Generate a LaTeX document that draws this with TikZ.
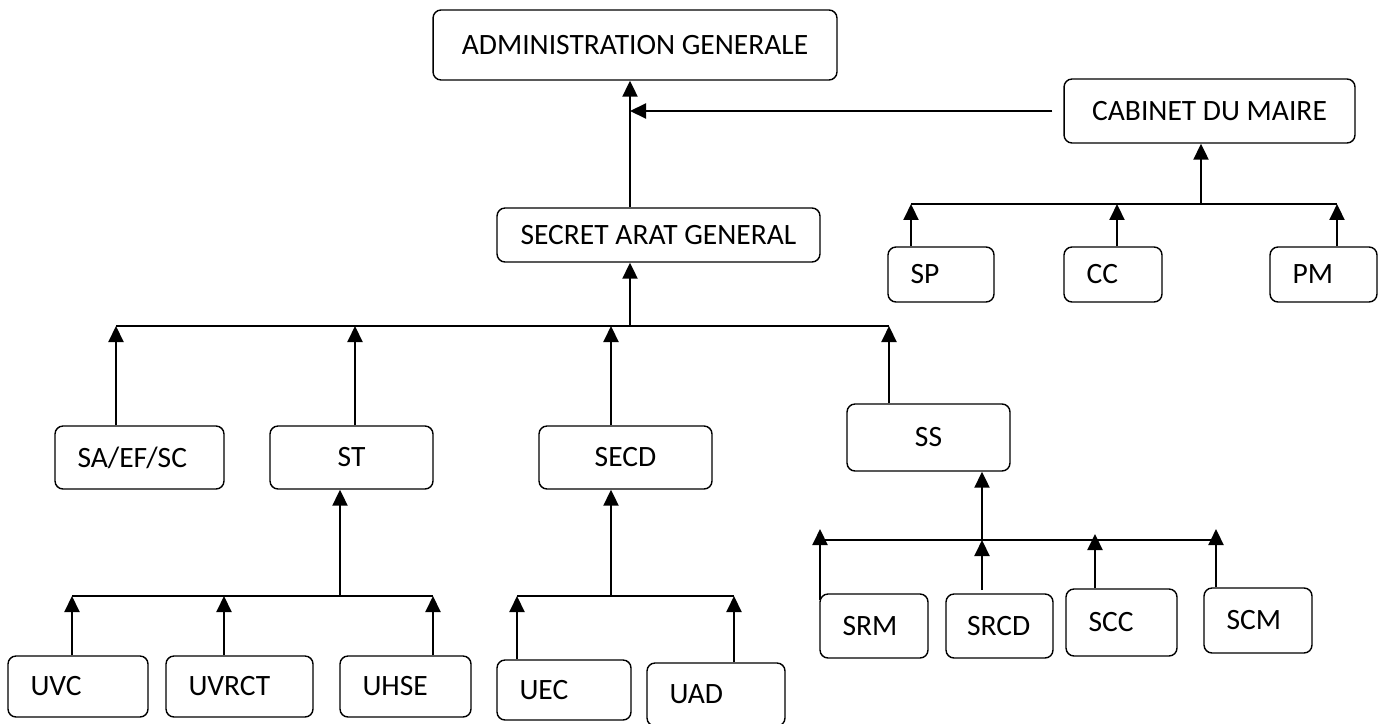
\documentclass[tikz,border=0pt]{standalone}
\usepackage{fontspec}
\setmainfont{Carlito}
\usetikzlibrary{arrows.meta,positioning,calc}

\begin{document}
\begin{tikzpicture}[
    x=0.02cm, y=-0.02cm,
    font=\fontsize{16.8}{20}\selectfont,
    dept/.style={rectangle, draw, rounded corners=0.16cm, line width=0.8pt, inner xsep=0.45cm, inner ysep=0pt, align=left},
    deptc/.style={dept, align=center},
    bus/.style={line width=0.8pt},
    link/.style={line width=1.2pt, -{Triangle[length=0.32cm, width=0.3cm]}}
]
\useasboundingbox (0,0) rectangle (1388,723);

% Direction (top)
\node[deptc, minimum width=8.08cm, minimum height=1.4cm] (admin) at (635,45) {ADMINISTRATION GENERALE};
\node[deptc, minimum width=5.82cm, minimum height=1.28cm] (cabinet) at (1209.5,111) {CABINET DU MAIRE};
\node[deptc, minimum width=6.46cm, minimum height=1.08cm] (secgen) at (658.5,235) {SECRET ARAT GENERAL};

% Cabinet services
\node[dept, text width=1.22cm, minimum height=1.1cm] (sp) at (941,274.5) {SP};
\node[dept, text width=1.06cm, minimum height=1.1cm] (cc) at (1113,274.5) {CC};
\node[dept, text width=1.24cm, minimum height=1.1cm] (pm) at (1323.5,274.5) {PM};

% Services of the secretariat
\node[dept, text width=2.48cm, minimum height=1.26cm] (saefsc) at (139.5,457.5) {SA/EF/SC};
\node[deptc, minimum width=3.26cm, minimum height=1.26cm] (st) at (351.5,457.5) {ST};
\node[deptc, minimum width=3.46cm, minimum height=1.26cm] (secd) at (625.5,457.5) {SECD};
\node[deptc, minimum width=3.26cm, minimum height=1.34cm] (ss) at (928.5,437.5) {SS};

% Units under ST
\node[dept, text width=1.90cm, minimum height=1.22cm] (uvc) at (78,686.5) {UVC};
\node[dept, text width=2.04cm, minimum height=1.22cm] (uvrct) at (239.5,686.5) {UVRCT};
\node[dept, text width=1.72cm, minimum height=1.22cm] (uhse) at (405.5,686.5) {UHSE};

% Units under SECD
\node[dept, text width=1.78cm, minimum height=1.2cm] (uec) at (564,690) {UEC};
\node[dept, text width=1.86cm, minimum height=1.26cm] (uad) at (716,694.5) {UAD};

% Services under SS
\node[dept, text width=1.26cm, minimum height=1.28cm] (srm) at (874,626) {SRM};
\node[dept, inner xsep=0.42cm, text width=1.30cm, minimum height=1.28cm] (srcd) at (999.5,626) {SRCD};
\node[dept, text width=1.32cm, minimum height=1.34cm] (scc) at (1121.5,622.5) {SCC};
\node[dept, text width=1.26cm, minimum height=1.30cm] (scm) at (1258,620.5) {SCM};

% Junction points
\coordinate (jadmin) at (630,111);
\coordinate (jcab) at (1201,204);
\coordinate (jsg) at (630,326);
\coordinate (jst) at (340,596);
\coordinate (jsecd) at (611,596);
\coordinate (jss) at (982,540);

% Secretariat and cabinet to the general administration
\draw[link] (jadmin |- secgen.north) -- (jadmin |- admin.south);
\draw[link] ([xshift=-0.22cm]cabinet.west) -- (jadmin);

% Cabinet services
\draw[bus] (911,204) -- (1337,204);
\draw[link] (jcab) -- (jcab |- cabinet.south);
\draw[link] (911,0 |- sp.north) -- (911,204);
\draw[link] (1117,0 |- cc.north) -- (1117,204);
\draw[link] (1337,0 |- pm.north) -- (1337,204);

% Secretariat services
\draw[bus] (116,326) -- (889,326);
\draw[link] (jsg) -- (jsg |- secgen.south);
\draw[link] (116,0 |- saefsc.north) -- (116,326);
\draw[link] (355,0 |- st.north) -- (355,326);
\draw[link] (611,0 |- secd.north) -- (611,326);
\draw[link] (889,0 |- ss.north) -- (889,326);

% ST units
\draw[bus] (72,596) -- (433,596);
\draw[link] (jst) -- (jst |- st.south);
\draw[link] (72,0 |- uvc.north) -- (72,596);
\draw[link] (224,0 |- uvrct.north) -- (224,596);
\draw[link] (433,0 |- uhse.north) -- (433,596);

% SECD units
\draw[bus] (517,596) -- (734,596);
\draw[link] (jsecd) -- (jsecd |- secd.south);
\draw[link] (517,0 |- uec.north) -- (517,596);
\draw[link] (734,0 |- uad.north) -- (734,596);

% SS services
\draw[bus] (825,540) -- (1217,540);
\draw[link] (jss) -- (jss |- ss.south);
\draw[link] (820,600) -- (820,529);
\draw[link] (982,590) -- (jss);
\draw[link] (1095,0 |- scc.north) -- (1095,534);
\draw[link] (1216,587) -- (1216,529);

\end{tikzpicture}
\end{document}
